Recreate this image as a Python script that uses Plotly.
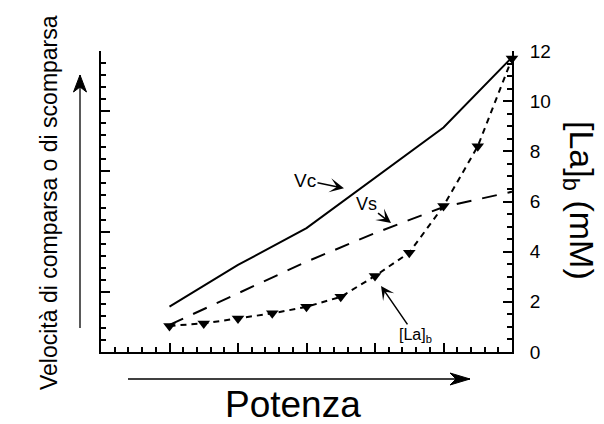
import plotly.graph_objects as go

# Power levels (arbitrary units) and measured curves
power_vc = [1, 2, 3, 4, 5, 6]
vc_rate = [1.81, 3.47, 4.94, 6.95, 8.95, 11.75]

power_vs = [1, 2, 3, 4, 5, 6]
vs_rate = [1.08, 2.35, 3.6, 4.74, 5.78, 6.39]

power_la = [1, 1.5, 2, 2.5, 3, 3.5, 4, 4.5, 5, 5.5, 6]
la_blood = [1.04, 1.14, 1.34, 1.54, 1.8, 2.2, 3.03, 3.96, 5.82, 8.2, 11.7]

right_ticks = [0, 2, 4, 6, 8, 10, 12]

FONT = "Liberation Sans, Arial, Helvetica, sans-serif"
INK = "black"

W, H = 604, 424
ML, MR, MT, MB = 101, 92, 51, 72
PW, PH = W - ML - MR, H - MT - MB


def to_paper(px, py):
    """Convert page pixels (from the top-left corner) to paper fractions."""
    return (px - ML) / PW, (H - MB - py) / PH


fig = go.Figure()

fig.add_trace(go.Scatter(
    x=power_vc, y=vc_rate, mode="lines",
    line=dict(color=INK, width=2), cliponaxis=False, hoverinfo="skip",
))
fig.add_trace(go.Scatter(
    x=power_vs, y=vs_rate, mode="lines",
    line=dict(color=INK, width=2, dash="15px,11px"), cliponaxis=False, hoverinfo="skip",
))
fig.add_trace(go.Scatter(
    x=power_la, y=la_blood, mode="lines+markers",
    line=dict(color=INK, width=2, dash="6px,5px"),
    marker=dict(symbol="triangle-down", size=11, color=INK),
    cliponaxis=False, hoverinfo="skip",
))
# empty trace so the left-hand rate axis is laid out
fig.add_trace(go.Scatter(x=[], y=[], yaxis="y2", showlegend=False))

axis_common = dict(
    showline=True, linecolor=INK, linewidth=2,
    ticks="inside", tickcolor=INK, tickwidth=2, ticklen=9,
    showgrid=False, zeroline=False,
)

fig.update_layout(
    width=W, height=H, autosize=False,
    margin=dict(l=ML, r=MR, t=MT, b=MB),
    paper_bgcolor="white", plot_bgcolor="white",
    showlegend=False,
    font=dict(family=FONT, color=INK),
    xaxis=dict(
        range=[0, 6], dtick=1, showticklabels=False,
        minor=dict(dtick=0.2, ticks="inside", ticklen=5, tickcolor=INK, tickwidth=1.5),
        **axis_common,
    ),
    yaxis=dict(
        range=[0, 12], side="right", tickvals=right_ticks,
        ticktext=[str(v) for v in right_ticks],
        tickfont=dict(size=19, family=FONT, color=INK),
        ticklabelstandoff=12,
        minor=dict(dtick=0.5, ticks="inside", ticklen=5, tickcolor=INK, tickwidth=1.5),
        **axis_common,
    ),
    yaxis2=dict(
        range=[0, 5], dtick=1, overlaying="y", side="left", anchor="x",
        showticklabels=False,
        minor=dict(dtick=0.2, ticks="inside", ticklen=5, tickcolor=INK, tickwidth=1.5),
        **axis_common,
    ),
)

# direction arrows beside the axes: shaft + notched head
shapes = []


def arrow(x0, y0, x1, y1, length, half_w, notch):
    ax0, ay0 = to_paper(x0, y0)
    ax1, ay1 = to_paper(x1, y1)
    shapes.append(dict(type="line", xref="paper", yref="paper",
                       x0=ax0, y0=ay0, x1=ax1, y1=ay1,
                       line=dict(color=INK, width=1.3)))
    dx, dy = x1 - x0, y1 - y0
    n = (dx * dx + dy * dy) ** 0.5
    ux, uy = dx / n, dy / n
    vx, vy = -uy, ux
    pts = [
        (x1, y1),
        (x1 - ux * length + vx * half_w, y1 - uy * length + vy * half_w),
        (x1 - ux * (length - notch), y1 - uy * (length - notch)),
        (x1 - ux * length - vx * half_w, y1 - uy * length - vy * half_w),
    ]
    path = "M " + " L ".join("%.5f,%.5f" % to_paper(px, py) for px, py in pts) + " Z"
    shapes.append(dict(type="path", xref="paper", yref="paper", path=path,
                       fillcolor=INK, line=dict(color=INK, width=1)))


arrow(80, 328, 80, 75, 17, 6.5, 5)
arrow(128, 379, 470, 379, 20, 6, 6)
fig.update_layout(shapes=shapes)

lx, ly = to_paper(49, 203)
rx, ry = to_paper(580, 200)
px_, py_ = to_paper(293, 404)

annotations = [
    # axis titles
    dict(text="Velocità di comparsa o di scomparsa", xref="paper", yref="paper",
         x=lx, y=ly, textangle=-90, showarrow=False,
         font=dict(size=23, family=FONT, color=INK), xanchor="center", yanchor="middle"),
    dict(text="[La]<sub>b</sub> (mM)", xref="paper", yref="paper",
         x=rx, y=ry, textangle=90, showarrow=False,
         font=dict(size=34, family=FONT, color=INK), xanchor="center", yanchor="middle"),
    dict(text="Potenza", xref="paper", yref="paper",
         x=px_, y=py_, showarrow=False,
         font=dict(size=37, family=FONT, color=INK), xanchor="center", yanchor="middle"),
    # curve labels with pointers
    dict(text="Vc", x=3.547, y=6.53, ax=2.978, ay=6.85, axref="x", ayref="y",
         showarrow=True, arrowhead=3, arrowsize=1.5, arrowwidth=1.6, arrowcolor=INK,
         font=dict(size=19, family=FONT, color=INK)),
    dict(text="Vs", x=4.234, y=5.14, ax=3.869, ay=5.9, axref="x", ayref="y",
         showarrow=True, arrowhead=3, arrowsize=1.5, arrowwidth=1.6, arrowcolor=INK,
         font=dict(size=18, family=FONT, color=INK)),
    dict(text="[La]<sub>b</sub>", x=4.088, y=2.63, ax=4.584, ay=0.66, axref="x", ayref="y",
         showarrow=True, arrowhead=3, arrowsize=1.5, arrowwidth=1.5, arrowcolor=INK,
         font=dict(size=16, family=FONT, color=INK)),
]
fig.update_layout(annotations=annotations)

fig.write_html("out.html")
